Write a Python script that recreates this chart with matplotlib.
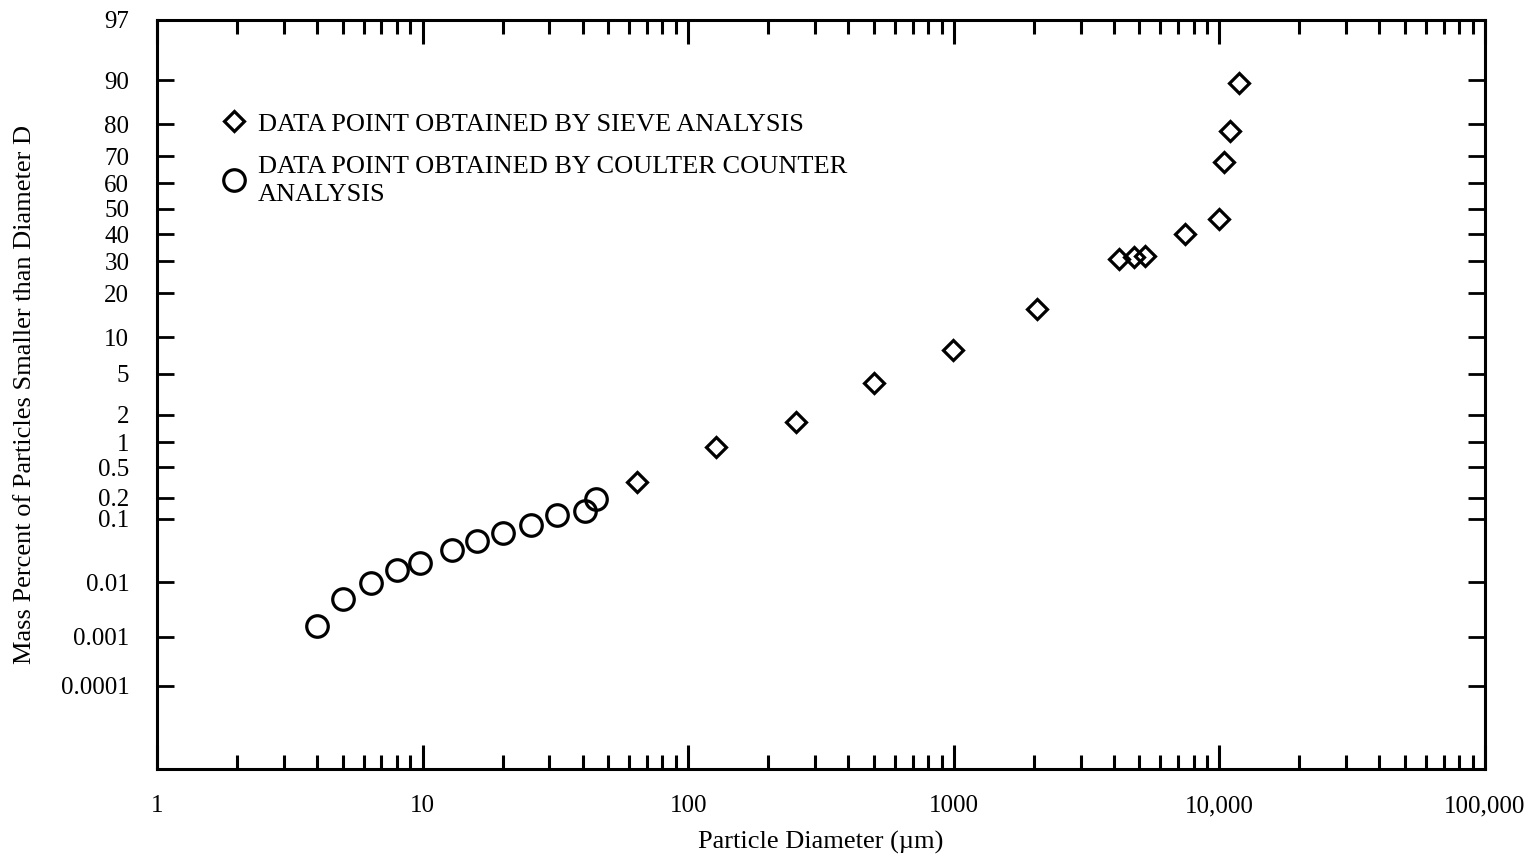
"""
Particle size distribution on log-probability paper.
"""

import math
from statistics import NormalDist

import matplotlib
matplotlib.use('Agg')
import matplotlib.pyplot as plt
from matplotlib.lines import Line2D
import numpy as np

# Coulter counter points (diameter in um, mass percent smaller than D)
coulter_d = [4.0, 5.0, 6.4, 8.0, 9.8, 12.9, 16.0, 20.0, 25.5, 32.0, 41.0, 45.0]
coulter_pct = [0.0016, 0.005, 0.0096, 0.016, 0.021, 0.034, 0.047, 0.062,
               0.082, 0.114, 0.13, 0.19]

# Sieve analysis points
sieve_d = [64, 127, 254, 500, 990, 2050, 4200, 4750, 5250, 7400, 10000,
           10400, 11000, 11900]
sieve_pct = [0.32, 0.87, 1.7, 4.1, 7.9, 16.0, 31.0, 31.6, 32.0, 40.0, 46.0,
             68.0, 78.0, 89.5]

y_ticks = [0.0001, 0.001, 0.01, 0.1, 0.2, 0.5, 1, 2, 5, 10, 20, 30, 40, 50,
           60, 70, 80, 90, 97]
y_tick_labels = ['0.0001', '0.001', '0.01', '0.1', '0.2', '0.5', '1', '2', '5',
                 '10', '20', '30', '40', '50', '60', '70', '80', '90', '97']
x_ticks = [1, 10, 100, 1000, 10000, 100000]
x_tick_labels = ['1', '10', '100', '1000', '10,000', '100,000']

_nd = NormalDist()
_inv = np.vectorize(_nd.inv_cdf, otypes=[float])
_cdf = np.vectorize(lambda v: 50.0 * (1 + math.erf(v / math.sqrt(2))), otypes=[float])


def prob_forward(p):
    p = np.clip(np.asarray(p, dtype=float) / 100.0, 1e-12, 1 - 1e-12)
    return _inv(p)


def prob_inverse(z):
    return _cdf(np.asarray(z, dtype=float))


plt.rcParams['font.family'] = ['Liberation Serif', 'DejaVu Serif']

fig = plt.figure(figsize=(15.35, 8.64), dpi=100)
ax = fig.add_axes([0.1023, 0.1100, 0.8651, 0.8669])

ax.set_xscale('log')
ax.set_yscale('function', functions=(prob_forward, prob_inverse))

ax.plot(coulter_d, coulter_pct, linestyle='none', marker='o', markersize=15.5,
        markerfacecolor='none', markeredgecolor='black', markeredgewidth=2.3)
ax.plot(sieve_d, sieve_pct, linestyle='none', marker='D', markersize=10.3,
        markerfacecolor='none', markeredgecolor='black', markeredgewidth=2.3)

ax.set_xlim(1, 100000)
ax.set_ylim(1.2e-6, 97)

ax.set_xticks(x_ticks)
ax.set_xticklabels(x_tick_labels)
ax.xaxis.set_minor_locator(matplotlib.ticker.LogLocator(base=10, subs=np.arange(2, 10)))
ax.xaxis.set_minor_formatter(matplotlib.ticker.NullFormatter())
ax.set_yticks(y_ticks)
ax.set_yticklabels(y_tick_labels)
ax.yaxis.set_minor_locator(matplotlib.ticker.NullLocator())

ax.tick_params(axis='x', which='major', direction='in', top=True, bottom=True,
               length=17, width=2.2, labelsize=18, pad=19)
ax.tick_params(axis='x', which='minor', direction='in', top=True, bottom=True,
               length=10, width=2.2)
ax.tick_params(axis='y', which='major', direction='in', left=True, right=True,
               length=12, width=2.0, labelsize=18, pad=20)

for spine in ax.spines.values():
    spine.set_linewidth(2.2)

ax.set_xlabel('Particle Diameter (\u00b5m)', fontsize=19, labelpad=10)
ax.set_ylabel('Mass Percent of Particles Smaller than Diameter D', fontsize=19,
              labelpad=18)

handles = [
    Line2D([], [], linestyle='none', marker='D', markersize=10.3,
           markerfacecolor='none', markeredgecolor='black', markeredgewidth=2.3),
    Line2D([], [], linestyle='none', marker='o', markersize=15.5,
           markerfacecolor='none', markeredgecolor='black', markeredgewidth=2.3),
]
labels = ['DATA POINT OBTAINED BY SIEVE ANALYSIS',
          'DATA POINT OBTAINED BY COULTER COUNTER\nANALYSIS']
leg = ax.legend(handles, labels, loc='upper left', bbox_to_anchor=(0.042, 0.891),
                frameon=False, fontsize=19, handlelength=0.8, handletextpad=0.5,
                labelspacing=0.78, borderaxespad=0)
for t in leg.get_texts():
    t.set_linespacing(1.32)

fig.savefig('out.png', dpi=100)
